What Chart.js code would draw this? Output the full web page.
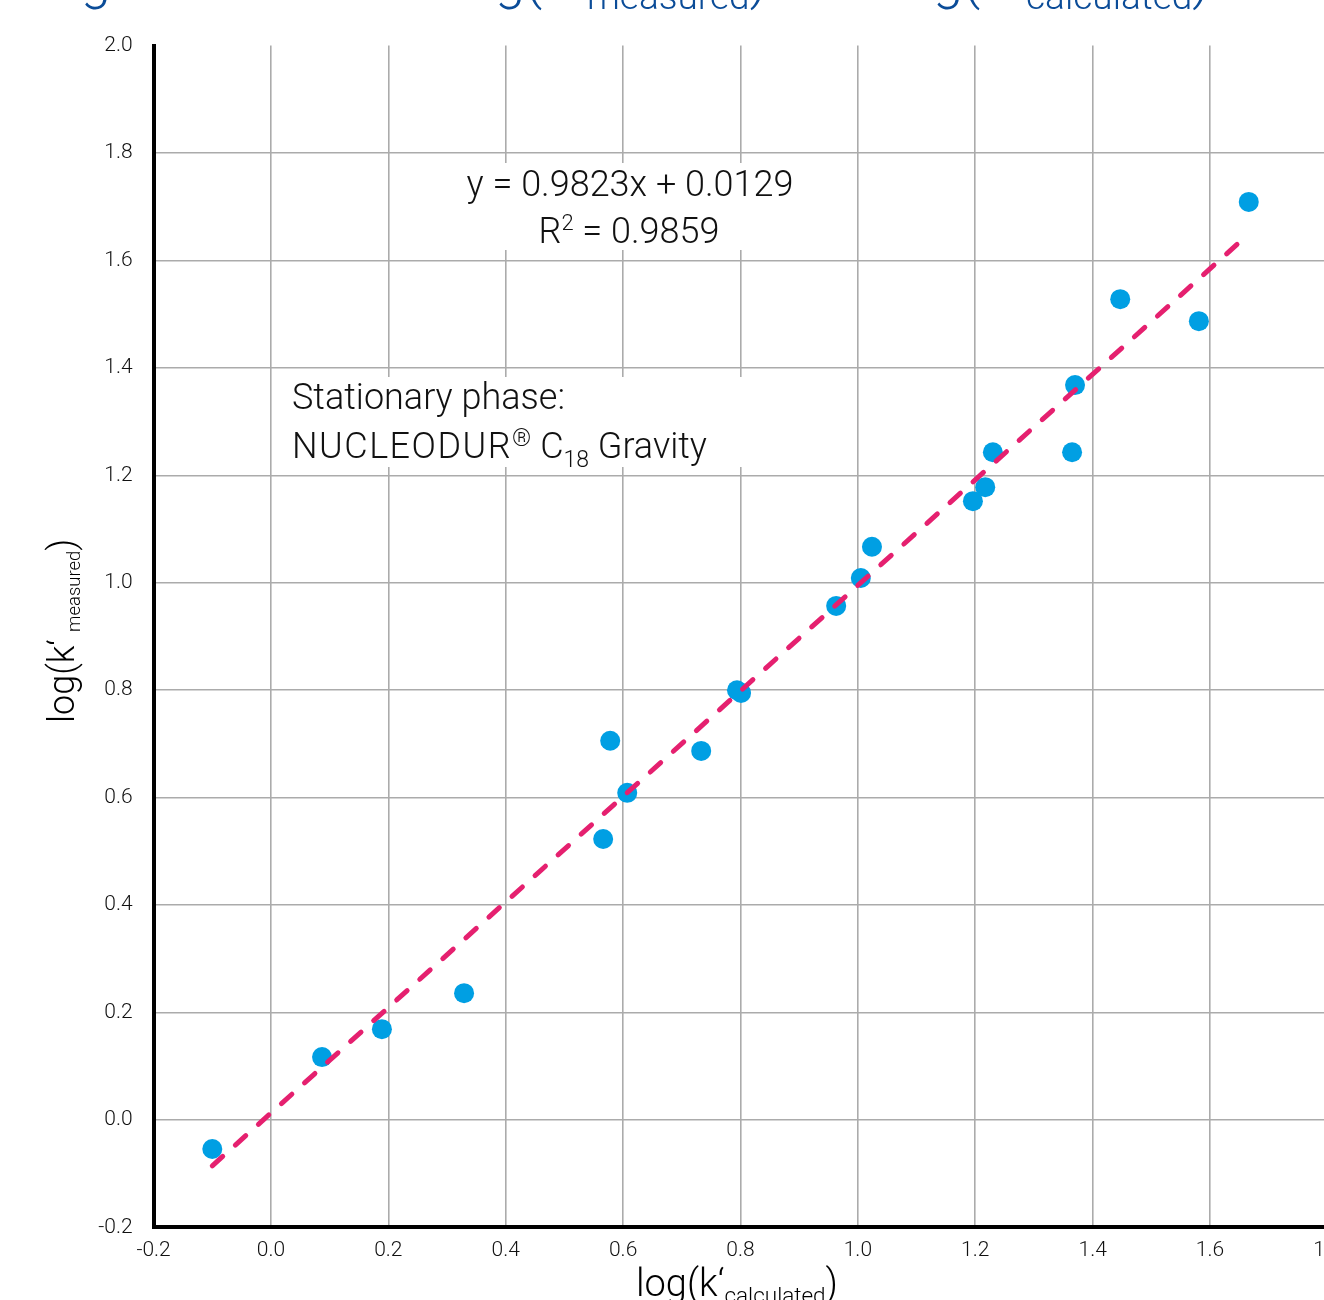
<!DOCTYPE html>
<html><head><meta charset="utf-8">
<script src="https://cdn.jsdelivr.net/npm/chart.js@4.4.1/dist/chart.umd.min.js"></script>
<style>
html,body{margin:0;padding:0;background:#fff;overflow:hidden;width:1324px;height:1300px;}
#wrap{position:absolute;left:0;top:0;width:1360px;height:1300px;}
</style></head><body>
<div id="wrap"><canvas id="c" width="1360" height="1300"></canvas></div>
<script>
// ---- data ----
const xCalculated = [-0.100, 0.087, 0.189, 0.329, 0.566, 0.578, 0.607, 0.733, 0.794, 0.801, 0.963, 1.005, 1.024, 1.196, 1.217, 1.230, 1.365, 1.370, 1.447, 1.581, 1.666];
const yMeasured   = [-0.054, 0.117, 0.169, 0.236, 0.523, 0.706, 0.609, 0.687, 0.800, 0.795, 0.957, 1.009, 1.067, 1.152, 1.178, 1.243, 1.243, 1.368, 1.528, 1.487, 1.709];
const trendX = [-0.100, 1.650];
const trendY = [-0.0853, 1.6337];
const xTickValues = [-0.2, 0.0, 0.2, 0.4, 0.6, 0.8, 1.0, 1.2, 1.4, 1.6, 1.8];
const yTickValues = [-0.2, 0.0, 0.2, 0.4, 0.6, 0.8, 1.0, 1.2, 1.4, 1.6, 1.8, 2.0];
const equationText = "y = 0.9823x + 0.0129";
const r2Text = " = 0.9859";
const phaseLine1 = "Stationary phase:";
const titleText = ["Regression line of lo", "g(k‘", "measured", ")", " vs. lo", "g(k‘", "calculated", ")"];

const FAM = "Roboto, 'Helvetica Neue', 'Liberation Sans', sans-serif";
const W = 300;
function f(size){ return W + " " + size + "px " + FAM; }
function richWidth(ctx, parts){ let w=0; for(const p of parts){ ctx.font=f(p.s); ctx.letterSpacing=(p.ls||0)+'px'; w+=ctx.measureText(p.t).width; } ctx.letterSpacing='0px'; return w; }
function drawRich(ctx, parts, x, y, align){
  let cx = align==='center' ? x - richWidth(ctx,parts)/2 : x;
  for(const p of parts){ ctx.font=f(p.s); ctx.letterSpacing=(p.ls||0)+'px'; ctx.fillText(p.t, cx, y+(p.dy||0)); cx += ctx.measureText(p.t).width; }
  ctx.letterSpacing='0px';
}

const overlay = {
  id:'overlay',
  beforeDatasetsDraw(chart){
    const ctx = chart.ctx;
    ctx.save();
    ctx.fillStyle='#fff';
    ctx.fillRect(455,163,345,87);
    ctx.fillRect(282,377,462,90);
    ctx.fillStyle='#111';
    ctx.textBaseline='alphabetic';
    drawRich(ctx,[{t:equationText,s:36}],630,196,'center');
    drawRich(ctx,[{t:"R",s:36},{t:"2",s:22,dy:-13},{t:r2Text,s:36}],629,243,'center');
    drawRich(ctx,[{t:phaseLine1,s:36}],292,409,'left');
    drawRich(ctx,[{t:"NUCLEODUR",s:36,ls:1.5},{t:"®",s:24,dy:-12},{t:" C",s:36},{t:"18",s:23,dy:9},{t:" Gravity",s:36}],292,458,'left');
    ctx.restore();
  },
  afterDraw(chart){
    const ctx = chart.ctx;
    ctx.save();
    ctx.textBaseline='alphabetic';
    // axis titles
    ctx.fillStyle='#000';
    drawRich(ctx,[{t:"log(k‘",s:38},{t:"calculated",s:22.5,dy:7},{t:")",s:38}],737,1296,'center');
    ctx.save();
    ctx.translate(74,631);
    ctx.rotate(-Math.PI/2);
    drawRich(ctx,[{t:"log(k‘",s:36},{t:"\u2009",s:36},{t:"measured",s:18.5,dy:6},{t:")",s:36}],0,0,'center');
    ctx.restore();
    // chart title (mostly above the visible area)
    ctx.fillStyle='#0b4c98';
    ctx.font=f(54);
    ctx.textAlign='right';
    ctx.fillText(titleText[0],495,-2);
    ctx.fillText(titleText[4],933,-2);
    ctx.textAlign='left';
    ctx.fillText(titleText[1],495,-2);
    ctx.fillText(titleText[5],933,-2);
    ctx.font=f(37);
    ctx.fillText(titleText[2],587,9);
    ctx.fillText(titleText[6],1026,9);
    const mw = ctx.measureText(titleText[2]).width, cw = ctx.measureText(titleText[6]).width;
    ctx.font=f(54);
    ctx.fillText(titleText[3],587+mw,-2);
    ctx.fillText(titleText[7],1026+cw,-2);
    ctx.restore();
  }
};

const pts = xCalculated.map((x,i)=>({x:x,y:yMeasured[i]}));
const trend = trendX.map((x,i)=>({x:x,y:trendY[i]}));
const gridColor = (ctx)=> (ctx.tick && Math.abs(ctx.tick.value-2.0)<1e-6) ? 'rgba(0,0,0,0)' : '#ababab';

new Chart(document.getElementById('c'), {
  type:'scatter',
  data:{datasets:[
    {label:'trend', data:trend, showLine:true, borderColor:'#e5206f', borderWidth:5, borderDash:[14,17], borderCapStyle:'round', pointRadius:0, fill:false, order:0},
    {label:'points', data:pts, backgroundColor:'#009fe3', borderWidth:0, pointRadius:10, pointHoverRadius:10, order:1}
  ]},
  options:{
    responsive:false, animation:false, devicePixelRatio:1,
    layout:{padding:{left:0,right:32.6,top:45.6,bottom:0}},
    plugins:{legend:{display:false},tooltip:{enabled:false},title:{display:false}},
    scales:{
      x:{type:'linear',min:-0.2,max:1.8,
        afterBuildTicks:(s)=>{s.ticks=xTickValues.map(v=>({value:v}));},
        afterFit:(s)=>{s.height=72.6;},
        ticks:{callback:(v)=>Number(v).toFixed(1),font:{family:FAM,size:21,weight:W},color:'#111',padding:11,maxRotation:0,autoSkip:false},
        grid:{color:gridColor,lineWidth:1.6,drawTicks:false},
        border:{display:true,color:'#000',width:4}},
      y:{type:'linear',min:-0.2,max:2.0,
        afterBuildTicks:(s)=>{s.ticks=yTickValues.map(v=>({value:v}));},
        afterFit:(s)=>{s.width=153.6;},
        ticks:{callback:(v)=>Number(v).toFixed(1),font:{family:FAM,size:21,weight:W},color:'#111',padding:21,autoSkip:false},
        grid:{color:gridColor,lineWidth:1.6,drawTicks:false},
        border:{display:true,color:'#000',width:4}}
    }
  },
  plugins:[overlay]
});
</script>
</body></html>
